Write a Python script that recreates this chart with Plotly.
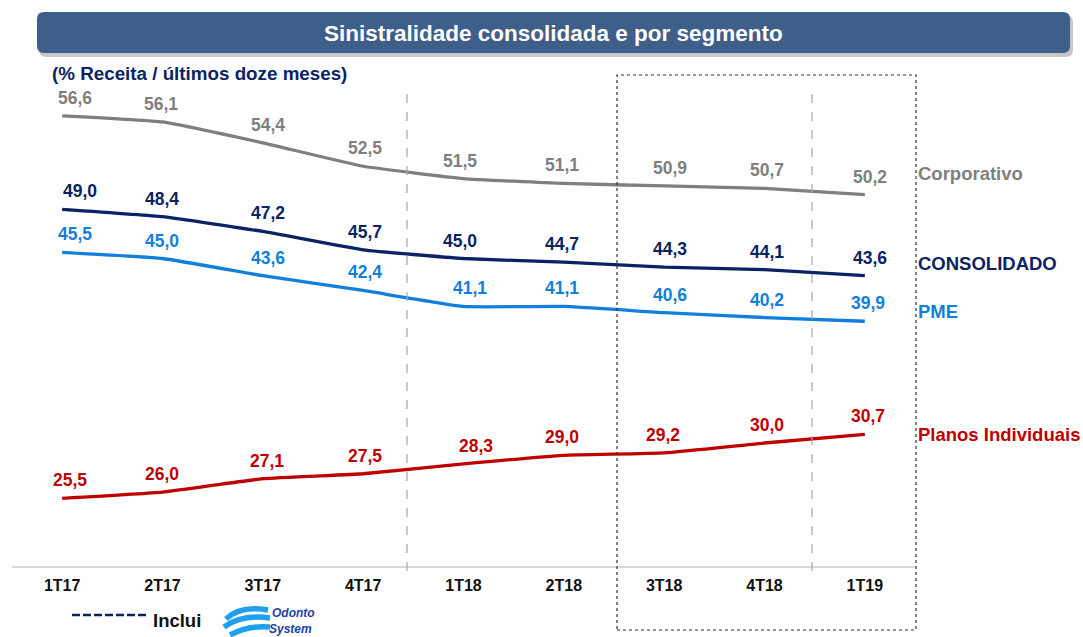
import plotly.graph_objects as go

# ---------------- data ----------------
quarters = ["1T17", "2T17", "3T17", "4T17", "1T18", "2T18", "3T18", "4T18", "1T19"]
corporativo = [56.6, 56.1, 54.4, 52.5, 51.5, 51.1, 50.9, 50.7, 50.2]
consolidado = [49.0, 48.4, 47.2, 45.7, 45.0, 44.7, 44.3, 44.1, 43.6]
pme = [45.5, 45.0, 43.6, 42.4, 41.1, 41.1, 40.6, 40.2, 39.9]
planos = [25.5, 26.0, 27.1, 27.5, 28.3, 29.0, 29.2, 30.0, 30.7]
series_names = ["Corporativo", "CONSOLIDADO", "PME", "Planos Individuais"]

title_text = "Sinistralidade consolidada e por segmento"
subtitle_text = "(% Receita / últimos doze meses)"

# ---------------- styling ----------------
W, H = 1083, 637
ML, MR, MT, MB = 12, 168, 74, 71
PW, PH = W - ML - MR, H - MT - MB
FONT = "Arial, Liberation Sans, sans-serif"

GRAY = "#7f7f7f"
NAVY = "#0b2363"
BLUE = "#127fdc"
RED = "#c00000"

def px(x):
    return (x - ML) / PW

def py(y):
    return (H - MB - y) / PH

fig = go.Figure()

series = [
    (series_names[0], corporativo, GRAY, 21),
    (series_names[1], consolidado, NAVY, 12),
    (series_names[2], pme, BLUE, 10),
    (series_names[3], planos, RED, 0),
]

# horizontal nudges of the value labels (pixels)
label_dx = {
    "Corporativo": [13, -2, 5, 2, -4, -2, 6, 2, 5],
    "CONSOLIDADO": [18, -1, 5, 2, -4, -2, 6, 2, 5],
    "PME": [13, -1, 5, 2, 6, -2, 6, 2, 3],
    "Planos Individuais": [8, -1, 4, 2, 12, -2, -1, 2, 3],
}

annotations = []
for name, vals, col, lab_shift in series:
    fig.add_trace(go.Scatter(
        x=quarters, y=vals, mode="lines", name=name,
        line=dict(color=col, width=3.3, shape="spline", smoothing=0.35),
        hoverinfo="skip", showlegend=False,
    ))
    for i, (q, v) in enumerate(zip(quarters, vals)):
        annotations.append(dict(
            x=q, y=v, xref="x", yref="y", text=f"{v:.1f}".replace(".", ","),
            showarrow=False, yshift=18, xshift=label_dx[name][i],
            font=dict(family=FONT, size=17.5, color=col, weight="bold"),
            xanchor="center", yanchor="middle",
        ))
    annotations.append(dict(
        x=px(916), y=vals[-1], xref="paper", yref="y", text=name,
        showarrow=False, yshift=lab_shift, xanchor="left", yanchor="middle",
        font=dict(family=FONT, size=18.5, color=col, weight="bold"),
    ))

# title & subtitle
annotations.append(dict(
    x=px(553), y=py(33), xref="paper", yref="paper", text=title_text,
    showarrow=False, xanchor="center", yanchor="middle",
    font=dict(family=FONT, size=22.5, color="white", weight="bold"),
))
annotations.append(dict(
    x=px(50), y=py(73), xref="paper", yref="paper", text=subtitle_text,
    showarrow=False, xanchor="left", yanchor="middle",
    font=dict(family=FONT, size=18.8, color=NAVY, weight="bold"),
))
# bottom note
annotations.append(dict(
    x=px(151), y=py(620), xref="paper", yref="paper", text="Inclui",
    showarrow=False, xanchor="left", yanchor="middle",
    font=dict(family=FONT, size=18.5, color="#111111", weight="bold"),
))
for txt, lx, anchor in [("Odonto", 271, "bottom"), ("System", 268, "top")]:
    annotations.append(dict(
        x=px(lx), y=py(620.5), xref="paper", yref="paper",
        text=f"<b><i>{txt}</i></b>", showarrow=False, xanchor="left", yanchor=anchor,
        borderpad=0,
        font=dict(family=FONT, size=12, color="#1f3fa8"),
    ))

def rounded_rect(x0, y0, x1, y1, r):
    pts = [
        f"M {px(x0 + r)} {py(y0)}",
        f"L {px(x1 - r)} {py(y0)}",
        f"Q {px(x1)} {py(y0)} {px(x1)} {py(y0 + r)}",
        f"L {px(x1)} {py(y1 - r)}",
        f"Q {px(x1)} {py(y1)} {px(x1 - r)} {py(y1)}",
        f"L {px(x0 + r)} {py(y1)}",
        f"Q {px(x0)} {py(y1)} {px(x0)} {py(y1 - r)}",
        f"L {px(x0)} {py(y0 + r)}",
        f"Q {px(x0)} {py(y0)} {px(x0 + r)} {py(y0)} Z",
    ]
    return " ".join(pts)

shapes = [
    # title shadow and box
    dict(type="path", xref="paper", yref="paper", path=rounded_rect(39, 15, 1073, 57, 7),
         fillcolor="rgba(0,0,0,0.22)", line=dict(width=0), layer="below"),
    dict(type="path", xref="paper", yref="paper", path=rounded_rect(37, 12, 1070, 53, 7),
         fillcolor="#3f5f8b", line=dict(width=0), layer="below"),
    # gray dashed separators
    dict(type="line", xref="paper", yref="paper", x0=px(407), x1=px(407), y0=py(94), y1=py(580),
         line=dict(color="#a6a6a6", width=1.2, dash="dash")),
    dict(type="line", xref="paper", yref="paper", x0=px(812), x1=px(812), y0=py(94), y1=py(580),
         line=dict(color="#a6a6a6", width=1.2, dash="dash")),
    # dotted box
    dict(type="rect", xref="paper", yref="paper", x0=px(617), x1=px(916), y0=py(630), y1=py(75),
         line=dict(color="#333333", width=1.2, dash="dot"), fillcolor="rgba(0,0,0,0)"),
    # legend dashed line
    dict(type="line", xref="paper", yref="paper", x0=px(72), x1=px(147), y0=py(615), y1=py(615),
         line=dict(color=NAVY, width=2.6, dash="8px,3px")),
]
# swoosh logo
for (a, b, c, d, e, f) in [(226, 619, 240, 605, 268, 610), (224, 627, 242, 614, 270, 618),
                            (230, 635, 248, 625, 270, 627)]:
    shapes.append(dict(
        type="path", xref="paper", yref="paper",
        path=f"M {px(a)} {py(b)} Q {px(c)} {py(d)} {px(e)} {py(f)}",
        line=dict(color="#1ea0ef", width=5.5),
    ))

fig.update_layout(
    width=W, height=H,
    margin=dict(l=ML, r=MR, t=MT, b=MB),
    paper_bgcolor="white", plot_bgcolor="white",
    annotations=annotations, shapes=shapes,
    xaxis=dict(
        type="category", range=[-0.5, 8.5], showgrid=False, zeroline=False,
        showline=True, linecolor="#d9d9d9", linewidth=1.5,
        ticks="", tickfont=dict(family=FONT, size=16, color="#111111", weight="bold"),
        ticklabelstandoff=4, fixedrange=True,
    ),
    yaxis=dict(
        range=[20, 60], visible=False, showgrid=False, zeroline=False, fixedrange=True,
    ),
)

fig.write_html(
    "out.html",
    config={"displayModeBar": False},
    post_script="document.body.style.margin='0';document.body.style.padding='0';",
)
